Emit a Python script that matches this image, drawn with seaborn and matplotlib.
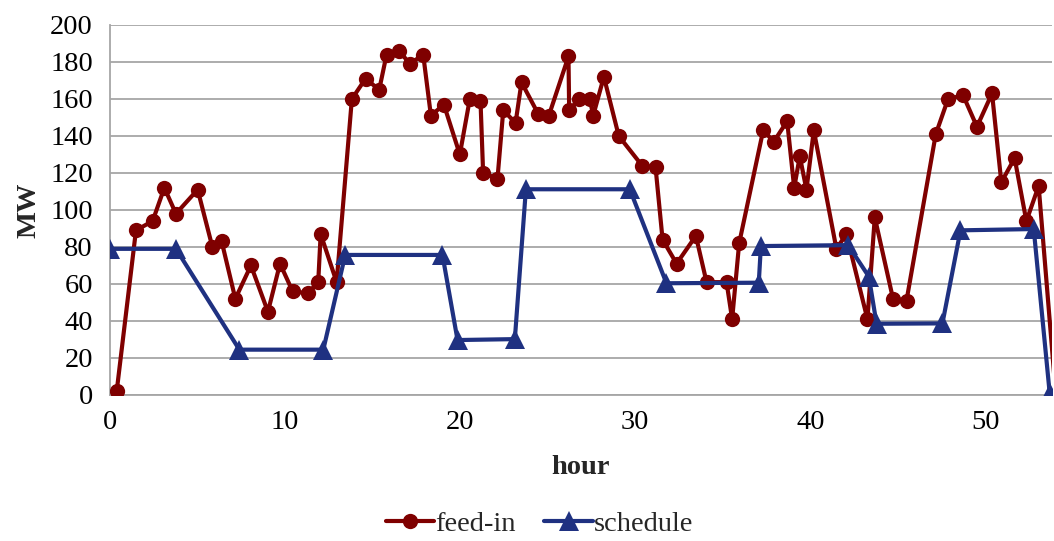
import matplotlib
matplotlib.use("Agg")
import matplotlib.pyplot as plt
import seaborn as sns
import pandas as pd

feed_hours = [0.41, 1.51, 2.46, 3.13, 3.79, 5.03, 5.87, 6.40, 7.18, 8.07, 9.04, 9.73, 10.45, 11.31,
              11.91, 12.05, 12.96, 13.83, 14.61, 15.39, 15.81, 16.53, 17.14, 17.90, 18.34, 19.08,
              19.99, 20.56, 21.17, 21.32, 22.14, 22.47, 23.17, 23.51, 24.46, 25.07, 26.19, 26.23,
              26.80, 27.41, 27.60, 28.21, 29.06, 30.39, 31.16, 31.56, 32.36, 33.46, 34.07, 35.21,
              35.53, 35.93, 37.30, 37.91, 38.67, 39.07, 39.39, 39.77, 40.19, 41.48, 42.05, 43.25,
              43.67, 44.71, 45.48, 47.15, 47.85, 48.71, 49.50, 50.36, 50.89, 51.65, 52.32, 53.02, 54.0]
feed_mw = [2, 89, 94, 112, 98, 111, 80, 83, 52, 70, 45, 71, 56, 55, 61, 87, 61, 160, 171, 165, 184,
           186, 179, 184, 151, 157, 130, 160, 159, 120, 117, 154, 147, 169, 152, 151, 183, 154, 160,
           160, 151, 172, 140, 124, 123, 84, 71, 86, 61, 61, 41, 82, 143, 137, 148, 112, 129, 111,
           143, 79, 87, 41, 96, 52, 51, 141, 160, 162, 145, 163, 115, 128, 94, 113, 0]

sched_hours = [0, 3.79, 7.41, 12.2, 13.45, 19.0, 19.86, 23.13, 23.76, 29.69, 31.78, 37.05, 37.17,
               42.15, 43.33, 43.77, 47.53, 48.56, 52.74, 53.65]
sched_mw = [79, 79, 24.5, 24.5, 75.7, 75.7, 29.7, 30.2, 111.2, 111.2, 60.4, 60.7, 80.5, 81, 64,
            38.5, 38.7, 89, 89.7, 1]

y_ticks = [0, 20, 40, 60, 80, 100, 120, 140, 160, 180, 200]
x_ticks = [0, 10, 20, 30, 40, 50]

sns.set_style("white")
plt.rcParams["font.family"] = ["Liberation Serif", "DejaVu Serif"]

RED = "#7f0000"
BLUE = "#1f3181"
GRID = "#a6a6a6"

fig = plt.figure(figsize=(10.54, 5.41), dpi=100)
ax = fig.add_axes([0.1039, 0.2699, 0.894, 0.6839])

df_feed = pd.DataFrame({"hour": feed_hours, "MW": feed_mw})
df_sched = pd.DataFrame({"hour": sched_hours, "MW": sched_mw})

sns.lineplot(data=df_feed, x="hour", y="MW", ax=ax, sort=False, color=RED, linewidth=3.0,
             marker="o", markersize=11, markeredgewidth=0, label="feed-in", zorder=3)
sns.lineplot(data=df_sched, x="hour", y="MW", ax=ax, sort=False, color=BLUE, linewidth=3.0,
             marker="^", markersize=14.5, markeredgewidth=0, label="schedule", zorder=4)

ax.set_xlim(0, 53.77)
ax.set_ylim(0, 200)
ax.set_yticks(y_ticks)
ax.set_xticks(x_ticks)
ax.yaxis.grid(True, color=GRID, linewidth=1.3)
ax.xaxis.grid(False)
ax.set_axisbelow(True)

for s in ["top", "right"]:
    ax.spines[s].set_visible(False)
for s in ["left", "bottom"]:
    ax.spines[s].set_color(GRID)
    ax.spines[s].set_linewidth(1.3)

ax.tick_params(axis="both", which="major", labelsize=20.5, colors="black",
               length=7, width=1.3, color=GRID, direction="out", pad=4)
ax.tick_params(axis="y", length=9, pad=3)

ax.set_xlabel("hour", fontsize=20.5, fontweight="bold", labelpad=14)
ax.set_ylabel("MW", fontsize=20.5, fontweight="bold", labelpad=6)

ax.get_legend().remove()
handles, labels = ax.get_legend_handles_labels()
fig.legend(handles, labels, loc="lower center", bbox_to_anchor=(0.512, -0.04), ncol=2,
           frameon=False, fontsize=20.5, handlelength=1.7, handletextpad=0.05,
           columnspacing=1.0)

fig.savefig("out.png", dpi=100)
